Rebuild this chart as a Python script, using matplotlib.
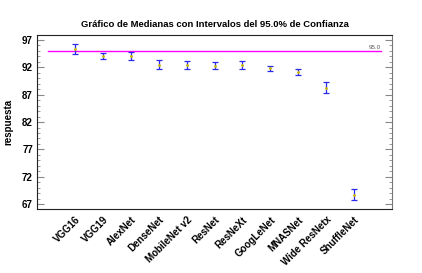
"""Median plot with 95% intervals (recreated)."""

import matplotlib.pyplot as plt
import numpy as np
from matplotlib.ticker import MultipleLocator

plt.rcParams["font.family"] = ["Liberation Sans", "DejaVu Sans"]

models = ["VGG16", "VGG19", "AlexNet", "DenseNet", "MobileNet v2", "ResNet",
          "ResNeXt", "GoogLeNet", "MNASNet", "Wide ResNetx", "ShuffleNet"]
medians = [95.3, 94.0, 94.0, 92.5, 92.4, 92.3, 92.4, 91.8, 91.1, 88.3, 68.7]
lower = [94.4, 93.5, 93.35, 91.65, 91.65, 91.65, 91.65, 91.3, 90.5, 87.3, 67.7]
upper = [96.2, 94.55, 94.85, 93.35, 93.15, 92.9, 93.15, 92.25, 91.75, 89.25, 69.8]
ref_level = 95.0

fig = plt.figure(figsize=(4.22, 2.73), dpi=100)
ax = fig.add_axes([0.088, 0.234, 0.841, 0.638])

x = np.arange(len(models))
med = np.array(medians)
err = np.vstack([med - np.array(lower), np.array(upper) - med])
ax.errorbar(x, med, yerr=err, fmt="none", ecolor="#2a2ae8", elinewidth=0.9,
            capsize=2.3, capthick=0.9, zorder=3)
ax.scatter(x, med, s=1, color="#c8b400", zorder=4)

ax.axhline(ref_level, xmin=0.03, xmax=0.97, color="#ff00ff", lw=1.0, zorder=2)
ax.text(x[-1] + 0.95, ref_level + 0.15, f"{ref_level:.1f}", fontsize=4.5,
        color="#555555", ha="right", va="bottom")

ax.set_xlim(-1.36, len(models) - 1 + 1.36)
ax.set_ylim(66.1, 97.9)
ax.set_yticks([67, 72, 77, 82, 87, 92, 97])
ax.yaxis.set_minor_locator(MultipleLocator(1))
ax.tick_params(axis="y", which="both", direction="in", left=True, right=True,
               labelsize=7, color="#888888", pad=3)
ax.tick_params(axis="y", which="major", length=5)
ax.tick_params(axis="y", which="minor", length=2.5)
for lbl in ax.get_yticklabels():
    lbl.set_fontweight("bold")

ax.set_xticks(x)
ax.set_xticklabels(models, rotation=45, ha="right", rotation_mode="anchor",
                   fontsize=7, fontweight="bold")
ax.tick_params(axis="x", length=0, pad=4)

ax.set_ylabel("respuesta", fontsize=7, fontweight="bold", labelpad=6)
ax.set_title("Gráfico de Medianas con Intervalos del 95.0% de Confianza",
             fontsize=6.8, fontweight="bold", pad=6)
for side in ("left", "bottom", "top"):
    ax.spines[side].set_color("#222222")
ax.spines["right"].set_color("#777777")
for sp in ax.spines.values():
    sp.set_linewidth(0.8)

fig.savefig("out.png", dpi=100)
